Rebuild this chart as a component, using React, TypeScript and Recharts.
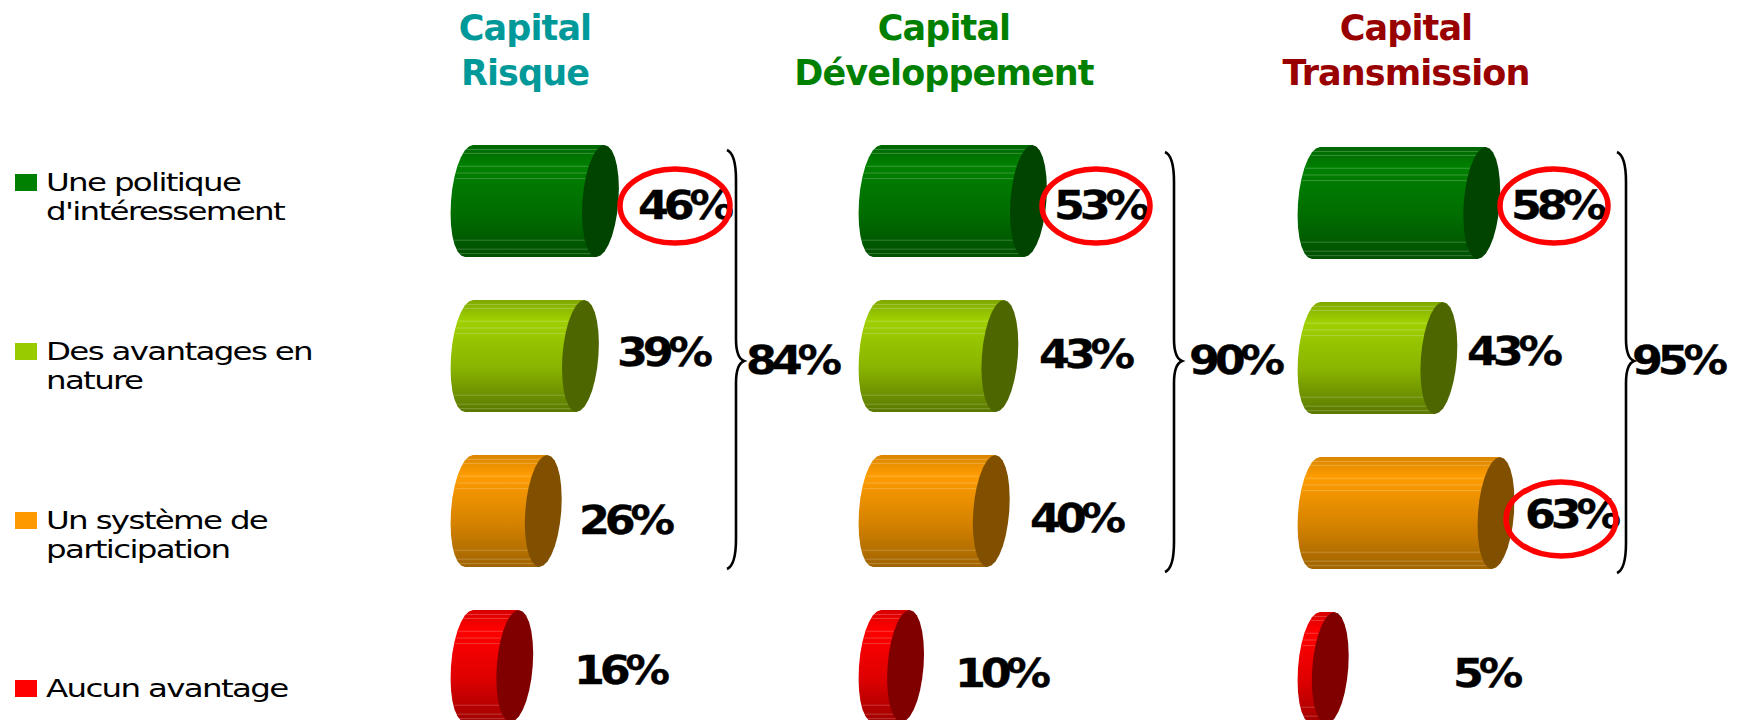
import { Bar, BarChart, LabelList, XAxis, YAxis } from "recharts";

const categories = ["Une politique d'intéressement", "Des avantages en nature", "Un système de participation", "Aucun avantage"];
const risque = [46, 39, 26, 16];
const developpement = [53, 43, 40, 10];
const transmission = [58, 43, 63, 5];

const legendLines = [["Une politique", "d'intéressement"], ["Des avantages en", "nature"], ["Un système de", "participation"], ["Aucun avantage"]];
const legendY = [182, 351, 520, 688];

const SOLID = ["#008000", "#99cc00", "#ff9900", "#ff0000"];
const CAPS = ["#004400", "#4d6600", "#805000", "#800000"];
const SHADE = [
  ["#006600", "#008000", "#006e00", "#004f00"],
  ["#7fa800", "#a0d000", "#8ab400", "#5a7800"],
  ["#d98600", "#ff9c00", "#d68300", "#a06400"],
  ["#d80000", "#ff0000", "#e00000", "#a00000"],
];
const STRIPES = [0.04, 0.075, 0.19, 0.25, 0.3, 0.85, 0.93, 0.97];

const FONT = "'DejaVu Sans', sans-serif";

const panels = [
  { id: "cr", data: risque, left: 449, top: 122.5, labelX: [638, 617, 579, 574], labelY: [205, 352, 520, 670] },
  { id: "cd", data: developpement, left: 857, top: 122.5, labelX: [1054, 1039, 1030, 955], labelY: [205, 354, 518, 673] },
  { id: "ct", data: transmission, left: 1296, top: 124.5, labelX: [1511, 1467, 1525, 1453], labelY: [205, 351, 514, 673] },
];

const titles = [
  { lines: ["Capital", "Risque"], x: 525, color: "#009999" },
  { lines: ["Capital", "Développement"], x: 944, color: "#008000" },
  { lines: ["Capital", "Transmission"], x: 1406, color: "#990000" },
];

const totals = [
  { text: "84%", x: 746 },
  { text: "90%", x: 1189 },
  { text: "95%", x: 1632 },
];

const braces = [
  { x: 736, top: 150, bottom: 569 },
  { x: 1174, top: 152, bottom: 572 },
  { x: 1626, top: 152, bottom: 573 },
];

const rings = [
  { cx: 675, cy: 206, rx: 55 },
  { cx: 1096, cy: 206, rx: 54 },
  { cx: 1554, cy: 206, rx: 54 },
  { cx: 1561, cy: 519, rx: 55 },
];

const RX = 18;
const SKEW = 4;

// facettes de l'ellipse, comme le rendu d'origine
function ellipsePts(cx: number, cy: number, ry: number, from: number, to: number, n = 14) {
  const pts: string[] = [];
  for (let i = 0; i <= n; i++) {
    const t = from + ((to - from) * i) / n;
    pts.push(`${(cx + RX * Math.cos(t) + SKEW * Math.sin(t) * -1).toFixed(1)},${(cy + ry * Math.sin(t)).toFixed(1)}`);
  }
  return pts;
}

function Cylinder(props: any) {
  const { x, y, width, height, index } = props;
  const ry = height / 2;
  const cy = y + ry;
  const end = x + width;
  const left = ellipsePts(x, cy, ry, Math.PI / 2, (3 * Math.PI) / 2);
  const cap = ellipsePts(end, cy, ry, 0, 2 * Math.PI, 28);
  const top = `${end + SKEW},${y}`;
  const bot = `${end - SKEW},${y + height}`;
  return (
    <g>
      <polygon points={[...left, top, bot].join(" ")} fill={`url(#shade${index})`} />
      {STRIPES.map((f) => {
        const sy = y + height * f;
        const k = Math.sqrt(Math.max(0, 1 - ((sy - cy) / ry) ** 2));
        const off = -SKEW * ((sy - cy) / ry);
        return (
          <line
            key={f}
            x1={x - RX * k + off + 1}
            x2={end - RX * k + off}
            y1={sy}
            y2={sy}
            stroke="#fff"
            strokeOpacity={0.22}
            strokeWidth={1}
          />
        );
      })}
      <polygon points={cap.join(" ")} fill={CAPS[index]} />
    </g>
  );
}

function BigPct({ x, y, children }: { x: number; y: number; children: any }) {
  return (
    <text
      transform={`translate(${x} ${y}) scale(1.14 1)`}
      fontFamily={FONT}
      fontWeight={700}
      fontSize={39}
      letterSpacing={-4.5}
      fill="#000"
      stroke="#000"
      strokeWidth={0.3}
      dominantBaseline="central"
    >
      {children}
    </text>
  );
}

function PctLabel(props: any) {
  const { index, value, panel } = props;
  return (
    <BigPct x={panel.labelX[index] - panel.left} y={panel.labelY[index] - panel.top}>
      {value}%
    </BigPct>
  );
}

function Brace({ x, top, bottom }: { x: number; top: number; bottom: number }) {
  const mid = 361;
  const d = `M${x - 9} ${top} C${x - 2} ${top + 3} ${x} ${top + 14} ${x} ${top + 30} L${x} ${mid - 22} C${x} ${mid - 8} ${x + 3} ${mid - 2} ${x + 8} ${mid} C${x + 3} ${mid + 2} ${x} ${mid + 8} ${x} ${mid + 22} L${x} ${bottom - 30} C${x} ${bottom - 14} ${x - 2} ${bottom - 3} ${x - 9} ${bottom}`;
  return <path d={d} fill="none" stroke="#000" strokeWidth={2.6} />;
}

export default function App() {
  return (
    <div style={{ position: "absolute", left: 0, top: 0, width: 1742, height: 720, overflow: "hidden", background: "#fff" }}>
      <svg width={1742} height={720} style={{ position: "absolute", left: 0, top: 0 }}>
        <defs>
          {SHADE.map((s, i) => (
            <linearGradient key={i} id={`shade${i}`} x1="0" y1="0" x2="0" y2="1">
              <stop offset="0" stopColor={s[0]} />
              <stop offset="0.18" stopColor={s[1]} />
              <stop offset="0.6" stopColor={s[2]} />
              <stop offset="1" stopColor={s[3]} />
            </linearGradient>
          ))}
        </defs>
        {titles.map((t) =>
          t.lines.map((l, i) => (
            <text key={l} x={t.x} y={40 + i * 45} textAnchor="middle" fontFamily={FONT} fontWeight={700} fontSize={35} letterSpacing={-0.9} fill={t.color}>
              {l}
            </text>
          ))
        )}
        {categories.map((c, i) => (
          <g key={c}>
            <rect x={15} y={legendY[i] - 8} width={22} height={17} fill={SOLID[i]} />
            {legendLines[i].map((l, j) => (
              <text
                key={l}
                transform={`translate(46 ${legendY[i] + 9 + j * 29}) scale(1.3 1)`}
                fontFamily={FONT}
                fontSize={25}
                letterSpacing={-1.3}
                fill="#000"
              >
                {l}
              </text>
            ))}
          </g>
        ))}
        {braces.map((b) => (
          <Brace key={b.x} {...b} />
        ))}
        {totals.map((t) => (
          <BigPct key={t.text} x={t.x} y={360}>
            {t.text}
          </BigPct>
        ))}
      </svg>
      {panels.map((p) => {
        const rows = categories.map((name, i) => ({ name, value: p.data[i] }));
        return (
          <div key={p.id} style={{ position: "absolute", left: p.left, top: p.top }}>
            <BarChart width={420} height={620} data={rows} layout="vertical" margin={{ top: 0, right: 0, bottom: 0, left: 20 }} barSize={112}>
              <XAxis type="number" hide domain={[0, 140]} />
              <YAxis type="category" dataKey="name" hide />
              <Bar dataKey="value" shape={<Cylinder />} isAnimationActive={false}>
                <LabelList dataKey="value" content={<PctLabel panel={p} />} />
              </Bar>
            </BarChart>
          </div>
        );
      })}
      <svg width={1742} height={720} style={{ position: "absolute", left: 0, top: 0, pointerEvents: "none" }}>
        {rings.map((r) => (
          <ellipse key={r.cx} cx={r.cx} cy={r.cy} rx={r.rx} ry={37} fill="none" stroke="#ff0000" strokeWidth={5.5} />
        ))}
      </svg>
    </div>
  );
}
